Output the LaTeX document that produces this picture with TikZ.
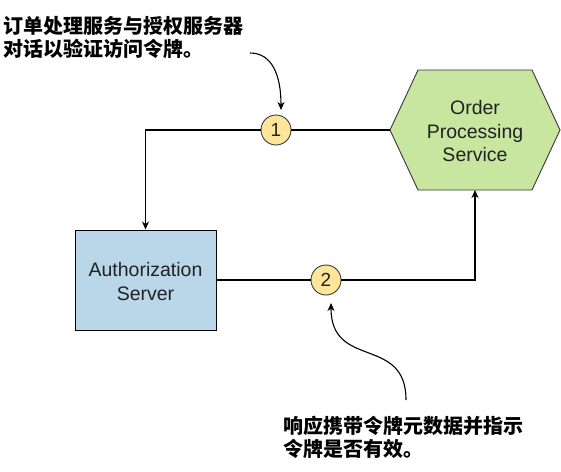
\documentclass[tikz,border=0pt]{standalone}
\usepackage{fontspec}
\setmainfont{Liberation Sans}
\newfontfamily\cjk{Noto Sans CJK SC}
\usetikzlibrary{arrows.meta}
\definecolor{boxblue}{HTML}{B9D7E8}
\definecolor{hexgreen}{HTML}{C8E6A0}
\definecolor{circyellow}{HTML}{FFE599}
\definecolor{edgegray}{HTML}{36393D}
\definecolor{labelgray}{HTML}{222222}
\tikzset{
  conn/.style={line width=1.1pt, black},
  arr/.style={conn, -{Stealth[length=8pt,width=7pt,inset=2.5pt]}},
  stepnum/.style={circle, draw=edgegray, line width=0.9pt, fill=circyellow, minimum size=30pt, inner sep=0pt, font=\fontsize{19}{21}\selectfont, text=labelgray},
  lbl/.style={align=center, font=\fontsize{19.5}{23.5}\selectfont, text=labelgray},
  note/.style={align=left, inner sep=0pt, font=\cjk\bfseries\fontsize{20}{23}\selectfont, text=black},
}
\begin{document}
\begin{tikzpicture}[x=1pt,y=-1pt]
\useasboundingbox (0,0) rectangle (561,471);
% hexagon
\coordinate (hexL) at (390,130);
\coordinate (hexB) at (475,190);
\fill[hexgreen, draw=edgegray, line width=0.9pt] (hexL) -- (418,70) -- (532,70) -- (560,130) -- (532,190) -- (418,190) -- cycle;
\node[lbl] (hex) at (475,131.5) {Order\\Processing\\Service};
% authorization server
\node[draw=black, line width=1pt, fill=boxblue, minimum width=141pt, minimum height=100pt, inner sep=0pt] (auth) at (145.5,280) {};
\node[lbl] (authtxt) at (145.5,281.5) {Authorization\\Server};
% step circles
\node[stepnum] (c1) at (276,130) {1};
\node[stepnum] (c2) at (326,280) {2};
% connectors
\draw[conn] (hexL) -- (c1);
\draw[arr] (c1) -| (auth);
\draw[conn] (auth) -- (c2);
\draw[arr] (c2) -| (hexB);
% annotations
\node[note, anchor=west] (n1) at (3,37.5) {订单处理服务与授权服务器\\对话以验证访问令牌。};
\node[note, anchor=west] (n2) at (283,437) {响应携带令牌元数据并指示\\令牌是否有效。};
\coordinate (a1s) at (250,53);
\coordinate (a1e) at (281,110);
\draw[arr] (a1s) .. controls (272,53) and (281,75) .. (a1e);
\coordinate (a2s) at (406,400);
\coordinate (a2e) at (331,303);
\draw[arr] (a2s) .. controls (406,335) and (331,370) .. (a2e);
\end{tikzpicture}
\end{document}
